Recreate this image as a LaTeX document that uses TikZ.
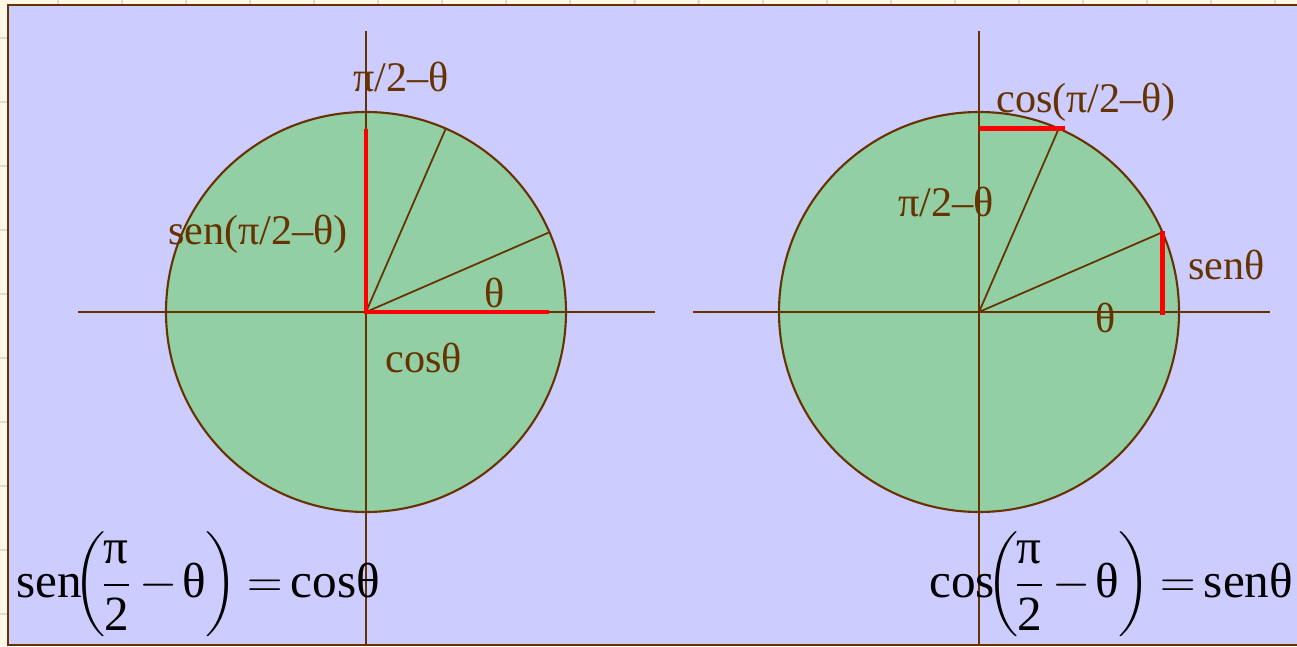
\documentclass[tikz,border=0pt]{standalone}
\usepackage{fix-cm}
\usepackage{amsmath}
\usepackage{fontspec}
\setmainfont{Liberation Serif}
\usetikzlibrary{calc}
\definecolor{slidebg}{HTML}{FFF8E6}
\definecolor{gridgray}{HTML}{DCDCDC}
\definecolor{panel}{HTML}{CCCCFF}
\definecolor{disc}{HTML}{93CFA4}
\definecolor{brownline}{HTML}{663300}

\begin{document}
\begin{tikzpicture}[x=0.02cm,y=0.02cm,
  axis/.style={draw=brownline,line width=1.1pt},
  rim/.style={draw=brownline,line width=1.2pt,fill=disc},
  ray/.style={draw=brownline,line width=1pt},
  redseg/.style={draw=red,line width=2.8pt},
  lbl/.style={text=brownline,font=\fontsize{24}{28}\selectfont,
              inner sep=0pt,anchor=base west},
  eqn/.style={font=\fontsize{28}{34}\selectfont,inner sep=0pt,anchor=base west}]
  \useasboundingbox (0,0) rectangle (1297,646);
  \clip (0,0) rectangle (1297,646);
  % slide backdrop with its grid, then the lavender panel
  \fill[slidebg] (0,0) rectangle (1297,646);
  \foreach \k in {0,...,19}
    \draw[gridgray,line width=1.2pt] ({58+64.05*\k},0) -- ++(0,646);
  \foreach \k in {0,...,9}
    \draw[gridgray,line width=1.2pt] (0,{608-64*\k}) -- ++(1297,0);
  \draw[brownline,line width=1.3pt,fill=panel] (8,1.3) rectangle (1310,640.7);

  % left circle: sen(pi/2-theta) = cos(theta)
  \coordinate (O1) at (366,334);
  \coordinate (A1) at ($(O1)+(66.5:200)$);
  \coordinate (B1) at ($(O1)+(23.5:200)$);
  \coordinate (S1) at ($(O1)+(0,183.4)$);
  \coordinate (C1) at ($(O1)+(183.4,0)$);
  \filldraw[rim] (O1) circle (200);
  \draw[axis] (78,334) -- (655,334);
  \draw[axis] (366,615) -- (366,1.3);
  \draw[ray] (O1) -- (A1) (O1) -- (B1);
  \draw[redseg,line join=miter] (S1) -- (O1) -- (C1);
  \node[lbl] (t1) at (353,554) {π/2–θ};
  \node[lbl] (t2) at (168,401) {sen(π/2–θ)};
  \node[lbl] (t3) at (484,338) {θ};
  \node[lbl] (t4) at (385,274) {cosθ};

  % right circle: cos(pi/2-theta) = sen(theta)
  \coordinate (O2) at (979,334);
  \coordinate (A2) at ($(O2)+(66.5:200)$);
  \coordinate (B2) at ($(O2)+(23.5:200)$);
  \filldraw[rim] (O2) circle (200);
  \draw[axis] (693,334) -- (1270,334);
  \draw[axis] (979,615) -- (979,1.3);
  \draw[ray] (O2) -- (A2) (O2) -- (B2);
  \draw[redseg] (O2 |- A2) -- ($(A2)+(6,0)$);
  \draw[redseg] ($(B2)+(0,1)$) -- ($(B2 |- O2)+(0,-3)$);
  \node[lbl] (u1) at (996,533) {cos(π/2–θ)};
  \node[lbl] (u2) at (898,429) {π/2–θ};
  \node[lbl] (u3) at (1188,366) {senθ};
  \node[lbl] (u4) at (1095,313) {θ};

  % the two identities
  \node[eqn] (e1) at (16,49)
    {$\text{sen}\mkern-6mu\left(\mkern-1.5mu\dfrac{\text{π}}{\text{2}}\mkern3.3mu{-}\mkern1.5mu\text{θ}\right)\mkern0.6mu{=}\mkern2.8mu\text{cosθ}$};
  \node[eqn] (e2) at (929,49)
    {$\text{cos}\mkern-6mu\left(\mkern-1.5mu\dfrac{\text{π}}{\text{2}}\mkern3.3mu{-}\mkern1.5mu\text{θ}\right)\mkern0.6mu{=}\mkern2.8mu\text{senθ}$};
\end{tikzpicture}
\end{document}
